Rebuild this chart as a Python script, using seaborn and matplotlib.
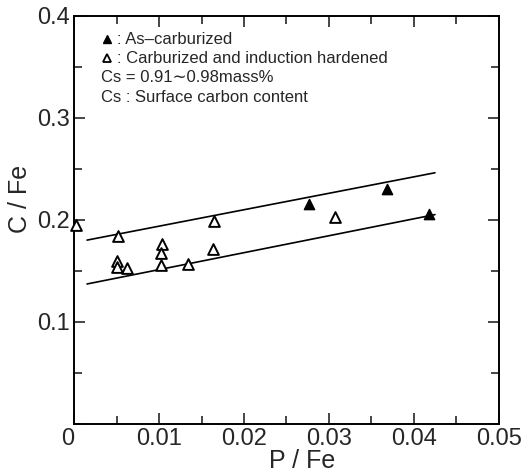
import numpy as np
import pandas as pd
import matplotlib
matplotlib.use("Agg")
import matplotlib.pyplot as plt
from matplotlib.ticker import MultipleLocator
import seaborn as sns

sns.set_style("ticks")
plt.rcParams['font.family'] = ['Liberation Sans', 'DejaVu Sans']

# open triangles: carburized and induction hardened
open_pfe = [0.0002, 0.0052, 0.005, 0.005, 0.0062, 0.0103, 0.0102, 0.0102, 0.0134, 0.0164, 0.0163, 0.0307]
open_cfe = [0.195, 0.184, 0.160, 0.154, 0.153, 0.176, 0.167, 0.156, 0.157, 0.199, 0.171, 0.203]
# filled triangles: as-carburized
filled_pfe = [0.0277, 0.0368, 0.0418]
filled_cfe = [0.215, 0.230, 0.206]
# band lines
line_x = [0.0015, 0.0425]
upper_y = [0.180, 0.246]
lower_y = [0.137, 0.205]

df = pd.DataFrame({
    'pfe': open_pfe + filled_pfe,
    'cfe': open_cfe + filled_cfe,
    'kind': ['open'] * len(open_pfe) + ['filled'] * len(filled_pfe),
})

fig = plt.figure(figsize=(5.31, 4.74), dpi=100)
ax = fig.add_axes([0.140, 0.106, 0.799, 0.861])

sns.lineplot(x=line_x, y=upper_y, color='black', lw=1.2, ax=ax)
sns.lineplot(x=line_x, y=lower_y, color='black', lw=1.2, ax=ax)

sub = df[df.kind == 'open']
sns.scatterplot(data=sub, x='pfe', y='cfe', marker='^', s=60, facecolor='white',
                edgecolor='black', linewidth=1.4, ax=ax, clip_on=False, zorder=3)
sub = df[df.kind == 'filled']
sns.scatterplot(data=sub, x='pfe', y='cfe', marker='^', s=55, color='black',
                edgecolor='black', linewidth=1.0, ax=ax, clip_on=False, zorder=3)

ax.set_xlim(0, 0.05)
ax.set_ylim(0, 0.4)
ax.set_xticks([0, 0.01, 0.02, 0.03, 0.04, 0.05])
ax.set_xticklabels(['0', '0.01', '0.02', '0.03', '0.04', '0.05'])
ax.set_yticks([0.1, 0.2, 0.3, 0.4])
ax.set_yticklabels(['0.1', '0.2', '0.3', '0.4'])
ax.xaxis.set_minor_locator(MultipleLocator(0.005))
ax.yaxis.set_minor_locator(MultipleLocator(0.05))
ax.tick_params(which='both', direction='in', top=True, right=True, labelsize=17, width=1.2)
ax.tick_params(which='major', length=8)
ax.tick_params(axis='x', which='major', pad=3)
ax.tick_params(axis='y', which='major', pad=3)
ax.tick_params(which='minor', length=6)
ax.get_xticklabels()[0].set_horizontalalignment('right')
for s in ax.spines.values():
    s.set_linewidth(1.4)
    s.set_color('black')

ax.set_xlabel('P / Fe', fontsize=18)
ax.set_ylabel('C / Fe', fontsize=18)
ax.xaxis.set_label_coords(0.537, -0.062)
ax.yaxis.set_label_coords(-0.099, 0.55)

ax.plot([0.0038], [0.377], marker='^', color='black', ms=6)
ax.plot([0.0038], [0.358], marker='^', mfc='white', mec='black', mew=1.3, ms=6)
ax.text(0.0050, 0.377, ': As\u2013carburized', fontsize=12, va='center')
ax.text(0.0050, 0.358, ': Carburized and induction hardened', fontsize=12, va='center')
ax.text(0.0032, 0.339, 'Cs = 0.91\u223c0.98mass%', fontsize=12, va='center')
ax.text(0.0032, 0.320, 'Cs : Surface carbon content', fontsize=12, va='center')

fig.savefig('out.png', dpi=100)
